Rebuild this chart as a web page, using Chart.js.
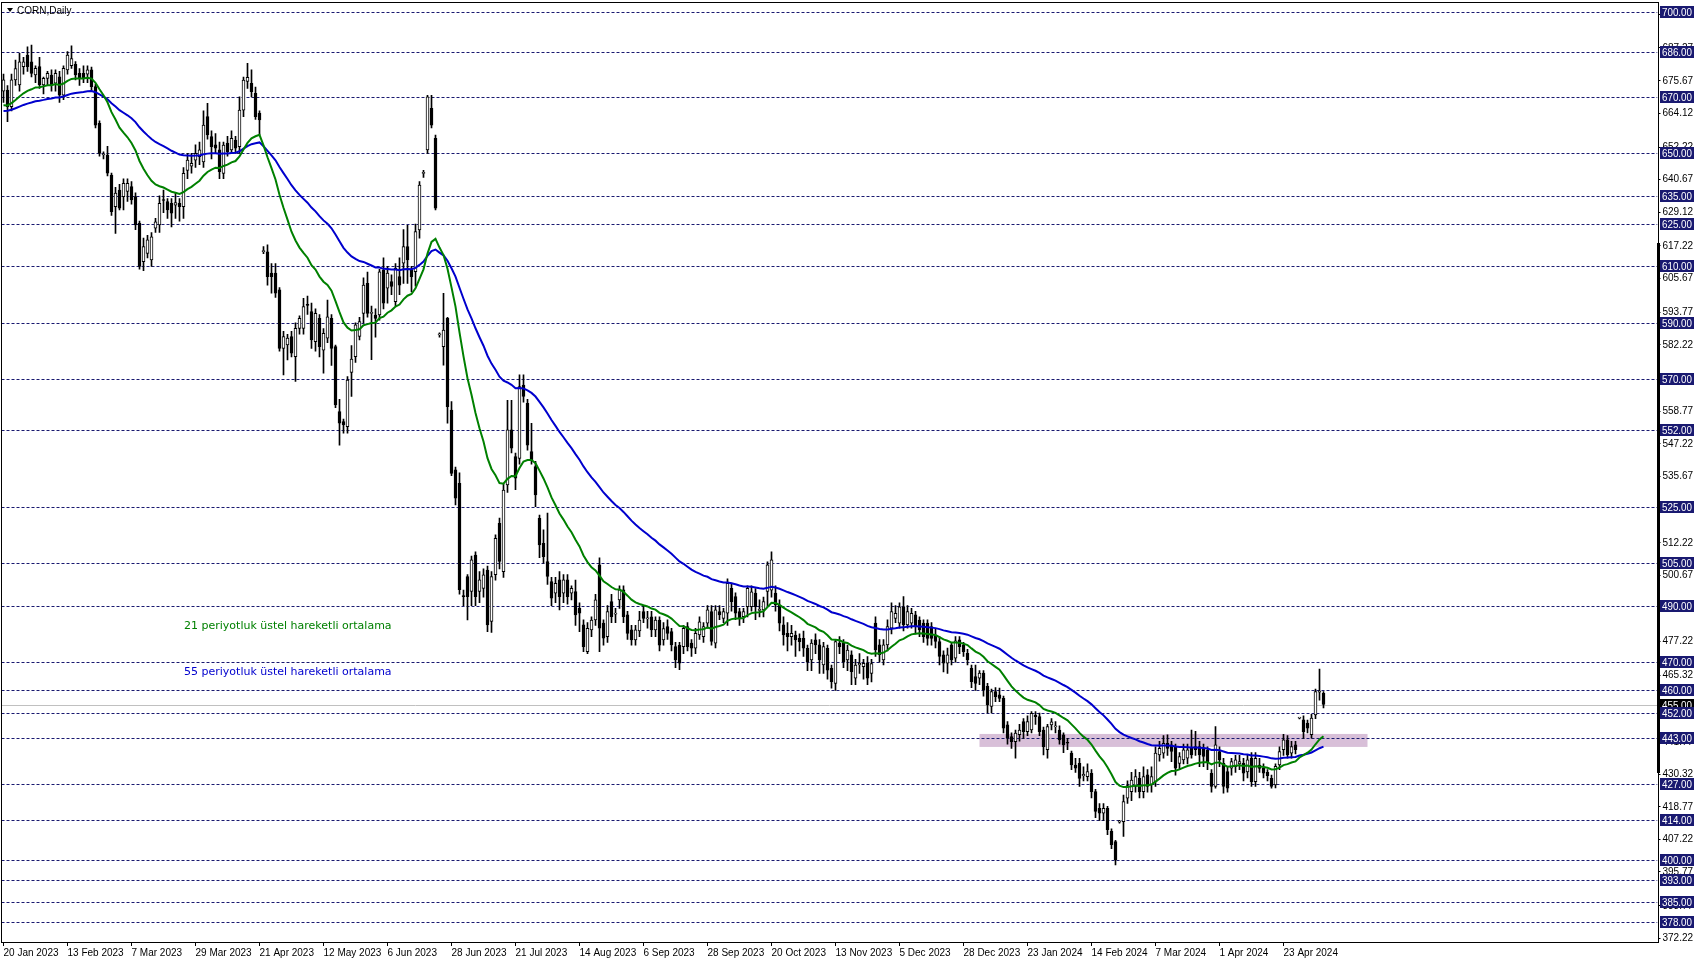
<!DOCTYPE html>
<html>
<head>
<meta charset="utf-8">
<title>CORN,Daily</title>
<script src="https://cdn.jsdelivr.net/npm/chart.js@4.4.1/dist/chart.umd.min.js"></script>
<style>
  html, body { margin: 0; padding: 0; background: #fff; }
  canvas { display: block; }
</style>
</head>
<body>
<canvas id="cornChart" width="1698" height="963"></canvas>
<script>
// daily candles, 20 Jan 2023 .. early May 2024
const opens = [
  672, 672.4, 666.5, 676, 674.2, 680.7, 684.8, 682.4, 677.7, 680.7,
  674.2, 676.5, 677.7, 674.8, 677.1, 670.6, 679.5, 681, 681.5, 678.3,
  678.3, 678, 679.5, 673.6, 660.6, 649.4, 649.4, 642.3, 631.1, 637,
  634.7, 636.5, 638.2, 634.7, 625.3, 611.7, 614.6, 612.3, 623.5, 624.7,
  633.5, 632.9, 632.3, 631.7, 632.3, 631.1, 644, 645.5, 647.6, 648.8,
  647, 663, 655.9, 653, 651.2, 642.9, 653.6, 651.2, 654.7, 652.4,
  665.3, 675.4, 674.8, 671.2, 664.2, 615.2, 615.2, 607.6, 607.6, 601.7,
  581, 582.2, 585.2, 578.1, 588.1, 588.1, 596.4, 594, 583.4, 591.6,
  580.4, 584.6, 591.6, 581.6, 558.6, 555.1, 553.3, 572.5, 578.1, 585.2,
  593.4, 604, 593.4, 592.8, 592.8, 608.7, 602.3, 604.6, 597.5, 606.4,
  611.1, 617, 608.7, 608.1, 622.9, 642.9, 651.2, 665.9, 655.3, 585.8,
  581.6, 591.6, 559.2, 538, 533.3, 493.5, 500.3, 495, 507.9, 495,
  496.1, 502.6, 484.4, 500.9, 519.1, 502, 532.7, 552.2, 542.7, 542.1,
  568, 561.6, 544.5, 539.2, 520.9, 512, 505.6, 498.5, 494.4, 499.1,
  494.4, 499.1, 494.4, 495, 489, 483.2, 473.7, 481.4, 484.9, 504.4,
  483.8, 479, 491.4, 487, 492, 495.6, 486.7, 481.4, 477.9, 481,
  487.9, 485.3, 486, 481.4, 484.9, 477.9, 482.6, 480.8, 475.5, 476,
  475.5, 482.6, 476.7, 474.9, 479.6, 479, 483.8, 487.9, 476.7, 487.9,
  485.5, 487.3, 496.1, 493.2, 487.9, 486.1, 489.6, 489.6, 494.4, 488.3,
  488.5, 495, 495.5, 494.4, 490.2, 483.2, 480.2, 479, 479.6, 478.4,
  478.4, 474.9, 470.8, 477.9, 476.1, 469, 474.9, 467.8, 462.5, 476.7,
  476.7, 470.8, 472.6, 464.3, 469, 468.4, 469.6, 466, 483.8, 476.1,
  470.8, 476.1, 482, 485.5, 483.8, 489.6, 483.2, 483.8, 486.7, 484.9,
  483.8, 483.8, 482.6, 479.6, 477.3, 472.6, 469.6, 476.1, 471.4, 477.9,
  476.1, 473.1, 467.8, 464.9, 464.3, 466.1, 461.4, 454.3, 459.6, 458.4,
  457.2, 447.8, 443.7, 441.9, 444.3, 449, 445.4, 446, 451.3, 450.7,
  446, 439, 447.8, 447.1, 446, 444.3, 441.5, 437.8, 433.6, 434.2,
  429.8, 429.5, 430.7, 424.2, 418.3, 416.6, 418.3, 410.1, 406.5, 413.4,
  413.6, 421.9, 424.2, 426, 428.9, 424.2, 430.1, 426.6, 427.7, 437.2,
  437.8, 441.3, 440.7, 440.1, 434.2, 435.4, 436, 439.5, 440.1, 440.1,
  439.5, 438.9, 430.7, 426, 438.4, 434.2, 431.3, 432.5, 433, 434,
  434.2, 431.2, 436, 427.7, 433.6, 432.4, 431, 428.9, 426.6, 433.6,
  439, 442.5, 437.8, 440.7, 450.2, 449.6, 448.4, 444.3, 451.3, 459.4,
  459
];
const highs = [
  678, 674, 678, 683, 685.4, 684, 687.7, 688.3, 681, 684,
  677, 679, 679.5, 679.5, 679, 681, 686, 688, 682.5, 680,
  681, 681, 680.5, 674.5, 661.5, 650.5, 652.5, 643, 638, 639,
  641, 641, 640, 636, 626, 620, 621, 622, 627, 635,
  637, 634, 634, 636, 634, 645, 650, 650, 653, 654,
  665, 667.7, 658, 657, 654, 654, 656, 658, 656, 670,
  677, 681.8, 679.5, 673.4, 665, 617, 617.6, 611, 611, 602.5,
  587, 586, 587, 590, 592.5, 598.7, 599.5, 597, 595, 593,
  588, 598.1, 593, 582.2, 563, 556, 571, 582, 590, 592,
  606, 608, 596, 595, 609, 613, 610, 607, 611, 613,
  623, 624.5, 610, 625, 640, 644, 670.5, 670.5, 656.5, 586.5,
  600.5, 592, 562.2, 539, 537, 495.5, 501, 507.5, 509, 502,
  503, 504, 502, 515, 521, 533, 562.6, 562.6, 544, 571.6,
  571.6, 563, 554.5, 541, 522, 516.8, 522.7, 500, 500, 502,
  501, 501, 497, 499, 491, 485, 484, 486, 494, 506.9,
  485, 490, 494, 489, 497, 497, 488, 483, 483, 488,
  490, 488, 488, 486, 486, 484, 485, 482, 477, 477,
  483, 484, 478, 482, 486, 484, 490, 490, 490, 490,
  489, 499.5, 498, 494.5, 489, 489, 497, 497, 496, 492,
  493, 505.5, 509, 497, 492, 486, 484, 483, 481, 480,
  481, 476, 478, 480, 478, 477, 476, 469, 478, 479,
  478, 476, 474, 471, 473, 471, 472, 471, 486, 478,
  478, 485, 491, 490, 491, 493.2, 490, 489, 488, 486,
  485, 485, 484, 482, 479, 474, 475, 477, 479, 479,
  477, 474.5, 469, 469, 467, 467, 462.5, 460.5, 461, 460.8,
  458, 449, 445, 446, 448, 450, 451, 452.5, 452.5, 452,
  447, 448, 450, 449, 447.5, 445, 443, 438.5, 436, 436,
  433, 434, 432, 425, 420, 420, 419, 411, 407, 414,
  423, 428, 431, 432, 431, 433, 432, 433, 440, 442,
  444, 444.3, 442, 441, 438, 441, 441, 446, 445.5, 442,
  441, 440, 432, 447.2, 440, 436, 433, 436, 437, 437,
  436, 437, 438, 438, 436, 434, 432, 430, 434, 440,
  444.5, 444, 442, 442, 450.5, 451, 449.5, 451.5, 460.5, 467.5,
  459.6
];
const lows = [
  668, 661.2, 665, 674, 672, 678, 679, 677, 675, 673,
  671, 674, 672, 672, 668, 669, 678, 680, 676, 674,
  675, 675, 672, 659, 649, 648, 642, 628, 621.7, 630,
  630, 633, 632, 623, 609, 608.5, 613, 610, 622, 622,
  629, 627, 624, 627, 626, 627, 641, 643, 645, 646,
  645, 655, 648, 650, 641, 641, 649, 650, 650, 650,
  663, 673, 670, 662, 656.5, 614.5, 603.4, 600.5, 599, 580,
  571.6, 576.9, 578, 569.3, 586, 586, 593, 581, 580, 578,
  572.2, 583, 575, 560, 546.8, 551, 551, 564, 576, 584,
  590, 592, 577, 585, 591, 595, 597, 600, 596, 600,
  604, 604, 601, 603, 620, 641.5, 650, 659, 630, 585,
  575.1, 554.5, 536, 525.6, 494, 490, 484.9, 490, 490, 491,
  493, 480.8, 480.5, 499, 503, 500, 530, 544, 531, 540,
  562, 545, 540, 525, 507, 505, 497.5, 490, 491, 488.5,
  491, 490.5, 492, 483, 480.8, 473.7, 473, 479, 483, 473.7,
  476, 477, 484, 484, 489, 484, 478, 476, 476, 479,
  484, 482, 479, 479, 474, 476, 478, 474, 468, 467.3,
  473, 474, 472, 473, 478, 477, 482, 476, 475, 485,
  484, 483, 488, 485, 483, 484, 486, 488, 485, 486,
  486, 490, 493, 488, 481, 476, 474, 476, 472, 474,
  472, 467, 467, 473, 466, 466, 464, 460.8, 460, 473,
  468, 467, 462, 462, 466, 464, 462, 463, 472, 470,
  469, 474, 480, 484, 482, 481, 482, 482, 480, 479,
  477, 476, 476, 475, 469, 466.5, 466, 469, 470, 473,
  472, 469, 461, 460, 462, 458, 452, 452, 456, 456,
  445, 441, 439.5, 436, 442, 443, 444, 445, 448, 444,
  437.2, 436, 446, 445, 441, 438, 439, 432, 431, 426,
  428, 428, 422, 415, 414, 414, 409, 404, 398.3, 413,
  408.3, 420, 421, 424, 422, 422, 424, 424, 426, 435,
  436, 437, 434.8, 430, 432, 434, 434, 436, 437, 433,
  433, 432, 424, 425.4, 433, 423.6, 424, 430, 431, 432,
  428, 429, 426, 426, 431, 429, 428, 425.4, 425.5, 432,
  437, 436, 436, 437.5, 449.9, 443, 445, 443.1, 450, 456.5,
  453.8
];
const closes = [
  676, 666.5, 676, 680, 682.4, 682.4, 680.7, 678.3, 680.1, 674.2,
  676.5, 678.3, 674.2, 678.3, 670.6, 680.1, 684.8, 683.5, 677.7, 676.5,
  676.5, 679.5, 673.6, 660, 650, 649.5, 643, 629.4, 635.9, 630.6,
  639.4, 639.4, 633.5, 624.7, 610, 617, 619.4, 620.5, 625.8, 632.3,
  633.3, 630, 628.8, 632.6, 631.1, 642.9, 647.6, 646.5, 650, 651.2,
  660, 656.5, 652.4, 651.8, 643.5, 652.9, 650.6, 655.3, 651.8, 665.3,
  675.9, 676.9, 671.8, 663, 661.8, 615.6, 606.4, 606.4, 600.5, 581,
  585.2, 584.6, 579.3, 588.1, 591.6, 595.8, 596.2, 584, 593.4, 581.6,
  586.3, 592.2, 581, 561, 554.5, 553.9, 569.8, 577.2, 589.3, 590.5,
  603.4, 593.4, 593.7, 591.6, 608.1, 597, 607.6, 602.9, 609.3, 603.4,
  617, 612.3, 606.4, 622.3, 638.8, 643, 670, 660, 630.6, 586,
  587.5, 560.4, 536.8, 528, 495.6, 493.2, 493.2, 506.2, 493.2, 499.1,
  500.9, 483.2, 500.3, 513.8, 505.6, 530.9, 552.2, 545.7, 535.1, 567.5,
  564, 546.8, 541.5, 529.2, 511.5, 507.3, 500.3, 492.6, 497.9, 493.2,
  499.1, 493.2, 496.1, 486.7, 487.3, 475.5, 482, 484.9, 492, 482,
  478.5, 487.9, 486.1, 487.3, 495.6, 486.1, 480.2, 477.9, 481.4, 484.9,
  485.5, 485.7, 481.4, 484.9, 476, 481.9, 480.2, 476.1, 470.8, 469.6,
  482, 475.5, 474.9, 480.2, 484.3, 482.6, 488.5, 477.3, 488.5, 486.7,
  487.9, 497.9, 491.4, 487.3, 485.5, 487.9, 496.1, 494.9, 489.6, 488.6,
  491.4, 504.4, 506.2, 490.2, 483.8, 479.6, 479, 480.2, 477.9, 477.2,
  474.9, 470.2, 476.7, 476.1, 470.8, 475.5, 467.2, 463.1, 477.3, 475.5,
  470.2, 474.3, 466.6, 469, 469.6, 469.6, 464.3, 469.5, 474.3, 472.6,
  476.1, 482.6, 487.9, 487.3, 489.6, 483.2, 487.9, 487.3, 482.6, 481.4,
  479, 478.4, 478.4, 477.3, 472, 469.6, 472.6, 470.8, 477.5, 475.5,
  473.7, 470.8, 463.1, 462.5, 466.1, 460.2, 454.9, 459.6, 457.8, 457.2,
  446.6, 443.1, 441.9, 444.9, 446, 445.4, 449, 451.9, 450.7, 445.4,
  440.1, 447.2, 448.9, 447.3, 442.5, 440.7, 441.3, 433.6, 432.5, 428.9,
  430.3, 431.3, 424.2, 417.2, 416.6, 418.3, 410.7, 405.4, 400.1, 413.7,
  420.7, 426.3, 428.3, 429.5, 424.2, 429.5, 426, 429.5, 437.8, 439.5,
  441.3, 439.5, 438.4, 432.5, 436.6, 439, 439, 437.2, 439, 437.2,
  436.6, 434.8, 426, 440.7, 435.4, 426, 425.4, 434.8, 435.4, 434.8,
  430.7, 435.4, 427.7, 436, 432.4, 430.7, 429.8, 426, 433.1, 438.4,
  442.5, 437.2, 440.1, 439, 450.2, 445.4, 446.6, 450.2, 459.6, 459.8,
  455
];

// one date label every 16 bars
const dateTicks = [
  '20 Jan 2023', '13 Feb 2023', '7 Mar 2023', '29 Mar 2023', '21 Apr 2023',
  '12 May 2023', '6 Jun 2023', '28 Jun 2023', '21 Jul 2023', '14 Aug 2023',
  '6 Sep 2023', '28 Sep 2023', '20 Oct 2023', '13 Nov 2023', '5 Dec 2023',
  '28 Dec 2023', '23 Jan 2024', '14 Feb 2024', '7 Mar 2024', '1 Apr 2024',
  '23 Apr 2024'
];
const tickEvery = 16;

const priceTicks = [
  372.22, 383.77, 395.77, 407.22, 418.77, 430.32, 441.77, 453.77, 465.32,
  477.22, 488.77, 500.67, 512.22, 523.77, 535.67, 547.22, 558.77, 570.32,
  582.22, 593.77, 605.67, 617.22, 629.12, 640.67, 652.22, 664.12, 675.67,
  687.27, 699.12
];

// horizontal support / resistance levels
const levels = [700, 686, 670, 650, 635, 625, 610, 590, 570, 552, 525, 505,
                490, 470, 460, 452, 443, 427, 414, 400, 393, 385, 378];
const currentPrice = 455;

// shaded zone (bar index range and price band)
const zoneFrom = 244, zoneTo = 341;
const zoneLow = 440, zoneHigh = 444.6;

const emaShort = 21, emaLong = 55;
const emaShortSeed = 667, emaLongSeed = 665;
const emaShortText = '21 periyotluk üstel hareketli ortalama';
const emaLongText = '55 periyotluk üstel hareketli ortalama';
const chartTitle = 'CORN,Daily';

const slotCount = 414;

function ema(values, period, seed) {
  const k = 2 / (period + 1);
  const out = [];
  let prev = seed;
  values.forEach((v, i) => {
    if (i > 0) prev = prev + k * (v - prev);
    out.push(+prev.toFixed(2));
  });
  return out;
}

const labels = Array.from({ length: slotCount }, (_, i) => i);
const wicks = lows.map((l, i) => [l, highs[i]]);
const bodies = opens.map((o, i) => [o, closes[i]]);
const bodyFill = opens.map((o, i) => closes[i] >= o ? '#ffffff' : '#000000');

const AXIS_FONT = "'Liberation Sans', sans-serif";
const NAVY = '#191970';

const overlay = {
  id: 'overlay',
  beforeDatasetsDraw(chart) {
    const { ctx, chartArea: a, scales: { x, y } } = chart;
    ctx.save();
    ctx.beginPath();
    ctx.rect(a.left, a.top, a.right - a.left, a.bottom - a.top);
    ctx.clip();

    const zx1 = x.getPixelForValue(zoneFrom), zx2 = x.getPixelForValue(zoneTo);
    const zy1 = y.getPixelForValue(zoneHigh), zy2 = y.getPixelForValue(zoneLow);
    ctx.fillStyle = '#d8bfd8';
    ctx.fillRect(zx1, zy1, zx2 - zx1, zy2 - zy1);

    ctx.lineWidth = 1;
    const cy = Math.round(y.getPixelForValue(currentPrice)) + 0.5;
    ctx.strokeStyle = '#c0c0c0';
    ctx.beginPath(); ctx.moveTo(a.left, cy); ctx.lineTo(a.right, cy); ctx.stroke();

    ctx.strokeStyle = NAVY;
    ctx.setLineDash([3, 2]);
    levels.forEach(v => {
      const py = Math.round(y.getPixelForValue(v)) + 0.5;
      ctx.beginPath(); ctx.moveTo(a.left, py); ctx.lineTo(a.right, py); ctx.stroke();
    });
    ctx.restore();
  },
  afterDatasetsDraw(chart) {
    const { ctx } = chart;
    ctx.save();
    ctx.font = "11px 'DejaVu Sans', sans-serif";
    ctx.textBaseline = 'middle';
    ctx.fillStyle = '#008000';
    ctx.fillText(emaShortText, 184, 626);
    ctx.fillStyle = '#0000cd';
    ctx.fillText(emaLongText, 184, 672);
    ctx.restore();
  },
  afterDraw(chart) {
    const { ctx, chartArea: a, scales: { y } } = chart;
    ctx.save();
    // frame
    ctx.strokeStyle = '#000';
    ctx.lineWidth = 1;
    ctx.strokeRect(Math.floor(a.left) + 0.5, Math.floor(a.top) + 0.5,
      Math.round(a.right) - Math.floor(a.left), Math.round(a.bottom) - Math.floor(a.top));
    // thick part of the price scale line
    ctx.fillStyle = '#000';
    ctx.fillRect(Math.round(a.right) - 1, 243, 3, 530);

    // title
    ctx.beginPath();
    ctx.moveTo(7, 8); ctx.lineTo(13, 8); ctx.lineTo(10, 12); ctx.closePath();
    ctx.fill();
    ctx.font = "10px 'Liberation Sans', sans-serif";
    ctx.textBaseline = 'middle';
    ctx.fillStyle = '#000';
    ctx.fillText(chartTitle, 17, 11);

    // price labels of current price and levels
    ctx.font = '11px ' + AXIS_FONT;
    const bx = Math.round(a.right) + 2;
    const drawTag = (v, bg) => {
      const py = Math.round(y.getPixelForValue(v));
      ctx.fillStyle = bg;
      ctx.fillRect(bx, py - 6, 34, 12);
      ctx.fillStyle = '#fff';
      ctx.fillText(v.toFixed(2), bx + 2, py + 0.5, 30);
    };
    drawTag(currentPrice, '#000');
    levels.forEach(v => drawTag(v, NAVY));
    ctx.restore();
  }
};

new Chart(document.getElementById('cornChart'), {
  type: 'bar',
  data: {
    labels: labels,
    datasets: [
      {
        type: 'line',
        label: 'EMA ' + emaShort,
        data: ema(closes, emaShort, emaShortSeed),
        borderColor: '#008000',
        borderWidth: 2,
        pointRadius: 0,
        tension: 0,
        order: 1
      },
      {
        type: 'line',
        label: 'EMA ' + emaLong,
        data: ema(closes, emaLong, emaLongSeed),
        borderColor: '#0000cd',
        borderWidth: 2,
        pointRadius: 0,
        tension: 0,
        order: 2
      },
      {
        label: 'body',
        data: bodies,
        backgroundColor: bodyFill,
        borderColor: '#000',
        borderWidth: 1,
        borderSkipped: false,
        barThickness: 3,
        minBarLength: 1,
        grouped: false,
        order: 3
      },
      {
        label: 'wick',
        data: wicks,
        backgroundColor: '#000',
        borderWidth: 0,
        barThickness: 1,
        grouped: false,
        order: 4
      }
    ]
  },
  options: {
    responsive: false,
    devicePixelRatio: 1,
    animation: false,
    events: [],
    layout: { padding: { left: 1.5, top: 2, right: 0, bottom: 0 } },
    plugins: {
      legend: { display: false },
      tooltip: { enabled: false }
    },
    scales: {
      x: {
        type: 'category',
        offset: true,
        border: { display: false },
        grid: {
          drawOnChartArea: false,
          drawTicks: true,
          tickLength: 4,
          offset: false,
          color: '#000'
        },
        afterBuildTicks: (scale) => {
          scale.ticks = scale.ticks.filter(t =>
            t.value % tickEvery === 0 && t.value / tickEvery < dateTicks.length);
        },
        afterFit: (scale) => {
          scale.height = 21;
          scale.paddingLeft = 0;
          scale.paddingRight = 0;
        },
        ticks: {
          autoSkip: false,
          maxRotation: 0,
          align: 'start',
          padding: 1,
          color: '#000',
          font: { family: AXIS_FONT, size: 10 },
          callback: (v) => dateTicks[v / tickEvery]
        }
      },
      y: {
        position: 'right',
        min: 370.99,
        max: 703.54,
        border: { display: false },
        grid: {
          drawOnChartArea: false,
          drawTicks: true,
          tickLength: 3,
          color: '#000'
        },
        afterBuildTicks: (scale) => {
          scale.ticks = priceTicks.map(v => ({ value: v }));
        },
        afterFit: (scale) => {
          scale.width = 40.5;
          scale.paddingTop = 0;
          scale.paddingBottom = 0;
        },
        ticks: {
          padding: 2,
          color: '#000',
          font: { family: AXIS_FONT, size: 10 },
          callback: (v) => Number(v).toFixed(2)
        }
      }
    }
  },
  plugins: [overlay]
});
</script>
</body>
</html>
